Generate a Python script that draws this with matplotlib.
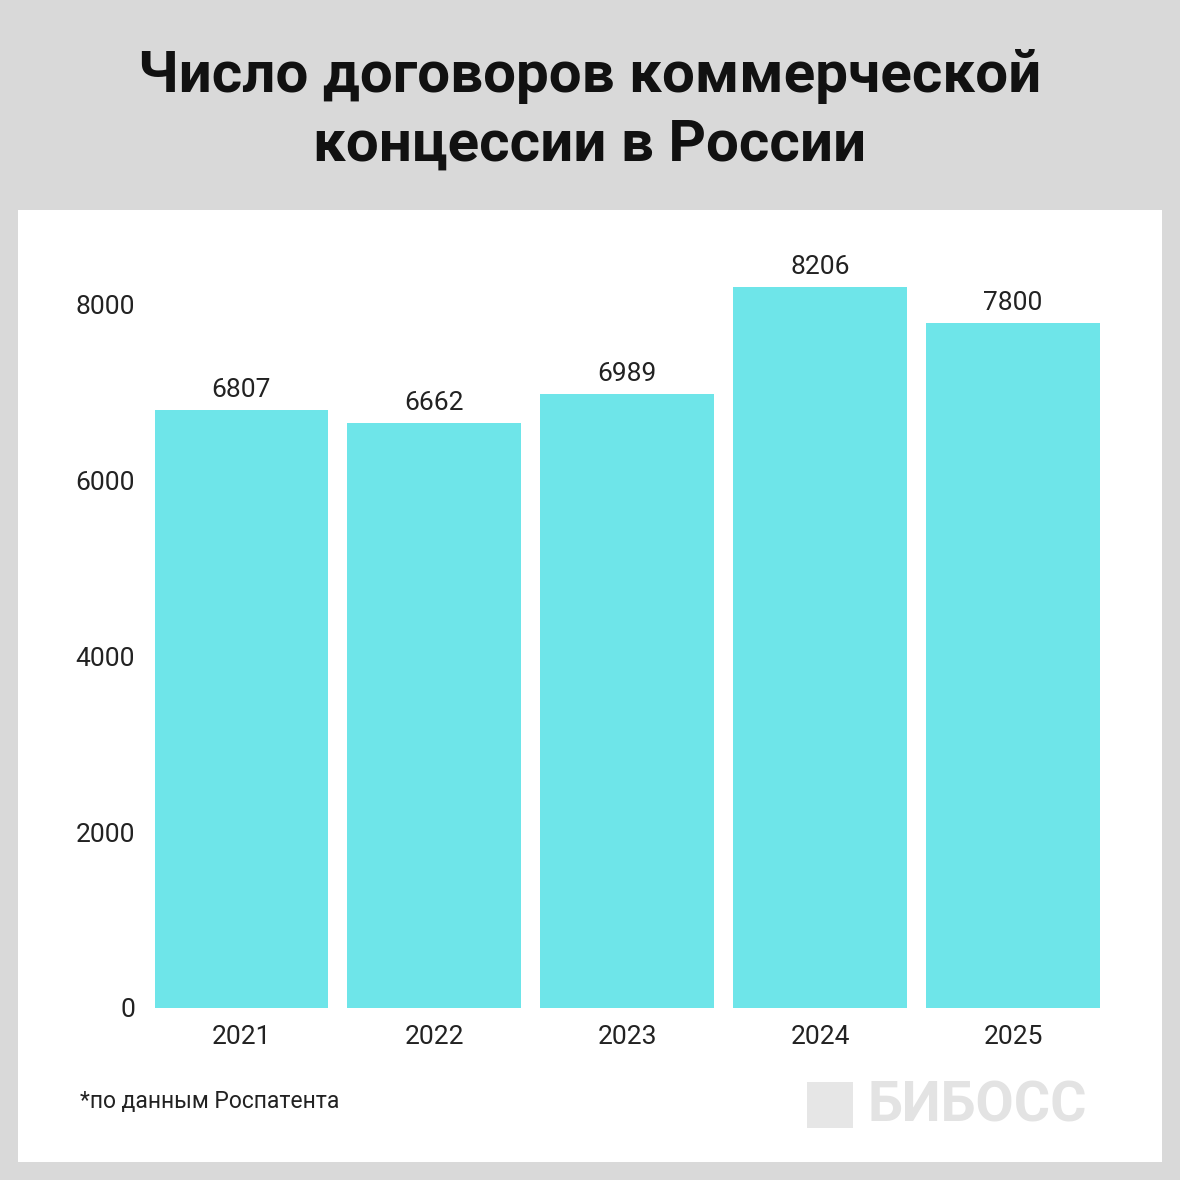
import matplotlib.pyplot as plt
from matplotlib.patches import Rectangle

years = ["2021", "2022", "2023", "2024", "2025"]
values = [6807, 6662, 6989, 8206, 7800]
yticks = [0, 2000, 4000, 6000, 8000]

plt.rcParams['font.family'] = ['Roboto', 'DejaVu Sans']

fig = plt.figure(figsize=(11.8, 11.8), dpi=100)
fig.patch.set_facecolor("#d9d9d9")

# белая подложка
fig.patches.append(Rectangle((18 / 1180, 18 / 1180), 1144 / 1180, 952 / 1180,
                             transform=fig.transFigure, facecolor="white", edgecolor="none", zorder=-5))

fig.text(0.5, 0.935, "Число договоров коммерческой", ha="center", va="center",
         fontsize=42, fontweight="bold", color="#111111")
fig.text(0.5, 0.877, "концессии в России", ha="center", va="center",
         fontsize=42, fontweight="bold", color="#111111")

ax = fig.add_axes([0.131, 0.1458, 0.801, 0.6424])
ax.set_zorder(5)
ax.set_facecolor("none")
x = range(len(years))
ax.bar(x, values, width=0.9, color="#6ee5e9")
for i, v in enumerate(values):
    ax.text(i, v + 90, str(v), ha="center", va="bottom", fontsize=19, color="#222222")

ax.set_xlim(-0.45, 4.45)
ax.set_ylim(0, 8626)
ax.set_xticks(list(x))
ax.set_xticklabels(years)
ax.set_yticks(yticks)
ax.tick_params(length=0, labelsize=19, colors="#222222")
ax.tick_params(axis="y", pad=14)
ax.tick_params(axis="x", pad=12)
for s in ax.spines.values():
    s.set_visible(False)

fig.text(80 / 1180, 1 - 1102 / 1180, "*по данным Роспатента", ha="left", va="center",
         fontsize=16.5, color="#222222")

# логотип
fig.patches.append(Rectangle((807 / 1180, 1 - 1128 / 1180), 46 / 1180, 46 / 1180,
                             transform=fig.transFigure, facecolor="#e6e6e6", edgecolor="none"))
fig.text(868 / 1180, 1 - 1106 / 1180, "БИБОСС", ha="left", va="center",
         fontsize=40, fontweight="bold", color="#e3e3e3")

fig.savefig("out.png", dpi=100, facecolor=fig.get_facecolor())
